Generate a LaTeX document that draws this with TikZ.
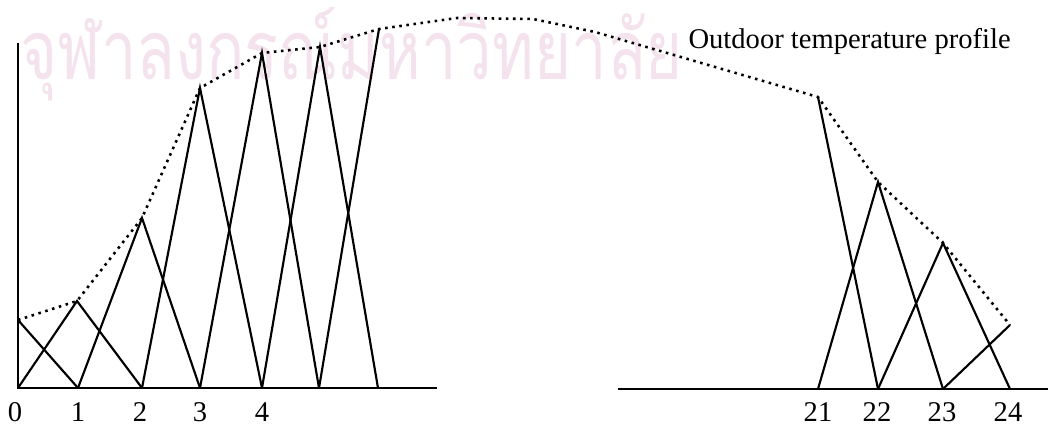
\documentclass[tikz,border=0pt]{standalone}
\usepackage{fontspec}
\setmainfont{Liberation Serif}
\newfontfamily\thaifont[Script=Thai]{Loma}
\usepackage{xcolor}
\usetikzlibrary{positioning}
\definecolor{stamppink}{RGB}{244,226,236}

\begin{document}
\begin{tikzpicture}[x=0.35pt, y=-0.35pt,
    axisline/.style={line width=0.8pt},
    member/.style={line width=0.75pt, line join=miter},
    profile/.style={line width=0.9pt, dash pattern=on 0.9pt off 1.6pt},
    hour/.style={font=\fontsize{10}{12}\selectfont, anchor=base, inner sep=0pt}
]
\useasboundingbox (0,0) rectangle (1053,427);

% watermark
\node[anchor=base west, inner sep=0pt, text=stamppink] (stamp) at (20,80)
    {\scalebox{0.77}[1]{\resizebox{301pt}{!}{\thaifont จุฬาลงกรณ์มหาวิทยาลัย}}};

% base points and peaks, morning
\foreach \n/\bx/\px/\py in {0/18/18/320, 1/78/77/301, 2/142/142/218, 3/200/200/88,
                            4/262/262/53, 5/319/320/47, 6/378/379/29} {
  \coordinate (b\n) at (\bx,388);
  \coordinate (p\n) at (\px,\py);
}
% base points and peaks, evening
\foreach \n/\bx/\py in {21/818/97, 22/878/182, 23/943/243, 24/1010/325} {
  \coordinate (b\n) at (\bx,389);
  \coordinate (p\n) at (\bx,\py);
}

% axes
\coordinate (ytop) at (18,43);
\coordinate (xend) at (437,388);
\coordinate (xstart2) at (618,389);
\coordinate (xend2) at (1048,389);
\draw[axisline] (ytop) -- (b0) -- (xend);
\draw[axisline] (xstart2) -- (xend2);

% triangular functions
\draw[member] (p0) -- (b1);
\draw[member] (b0) -- (p1) -- (b2);
\draw[member] (b1) -- (p2) -- (b3);
\draw[member] (b2) -- (p3) -- (b4);
\draw[member] (b3) -- (p4) -- (b5);
\draw[member] (b4) -- (p5) -- (b6);
\draw[member] (b5) -- (p6);
\draw[member] (p21) -- (b22);
\draw[member] (b21) -- (p22) -- (b23);
\draw[member] (b22) -- (p23) -- (b24);
\draw[member] (b23) -- (p24);

% outdoor profile
\coordinate (noon1) at (457,18);
\coordinate (noon2) at (533,19);
\coordinate (noon3) at (595,32);
\draw[profile] (p0) -- (p1) -- (p2) -- (p3) -- (p4) -- (p5) -- (p6)
    -- (noon1) -- (noon2) -- (noon3) -- (p21) -- (p22) -- (p23) -- (p24);

\node[anchor=base west, inner sep=0pt, font=\fontsize{10}{12}\selectfont] (title) at (688,49)
    {Outdoor temperature profile};

% hour labels
\node[hour] (h0) at (15,422) {0};
\foreach \n/\lx in {1/78, 2/140, 3/200, 4/262}
  \node[hour] (h\n) at (\lx,422) {\n};
\foreach \n/\lx in {21/818, 22/877, 23/942, 24/1008}
  \node[hour] (h\n) at (\lx,422) {\n};
\end{tikzpicture}
\end{document}
